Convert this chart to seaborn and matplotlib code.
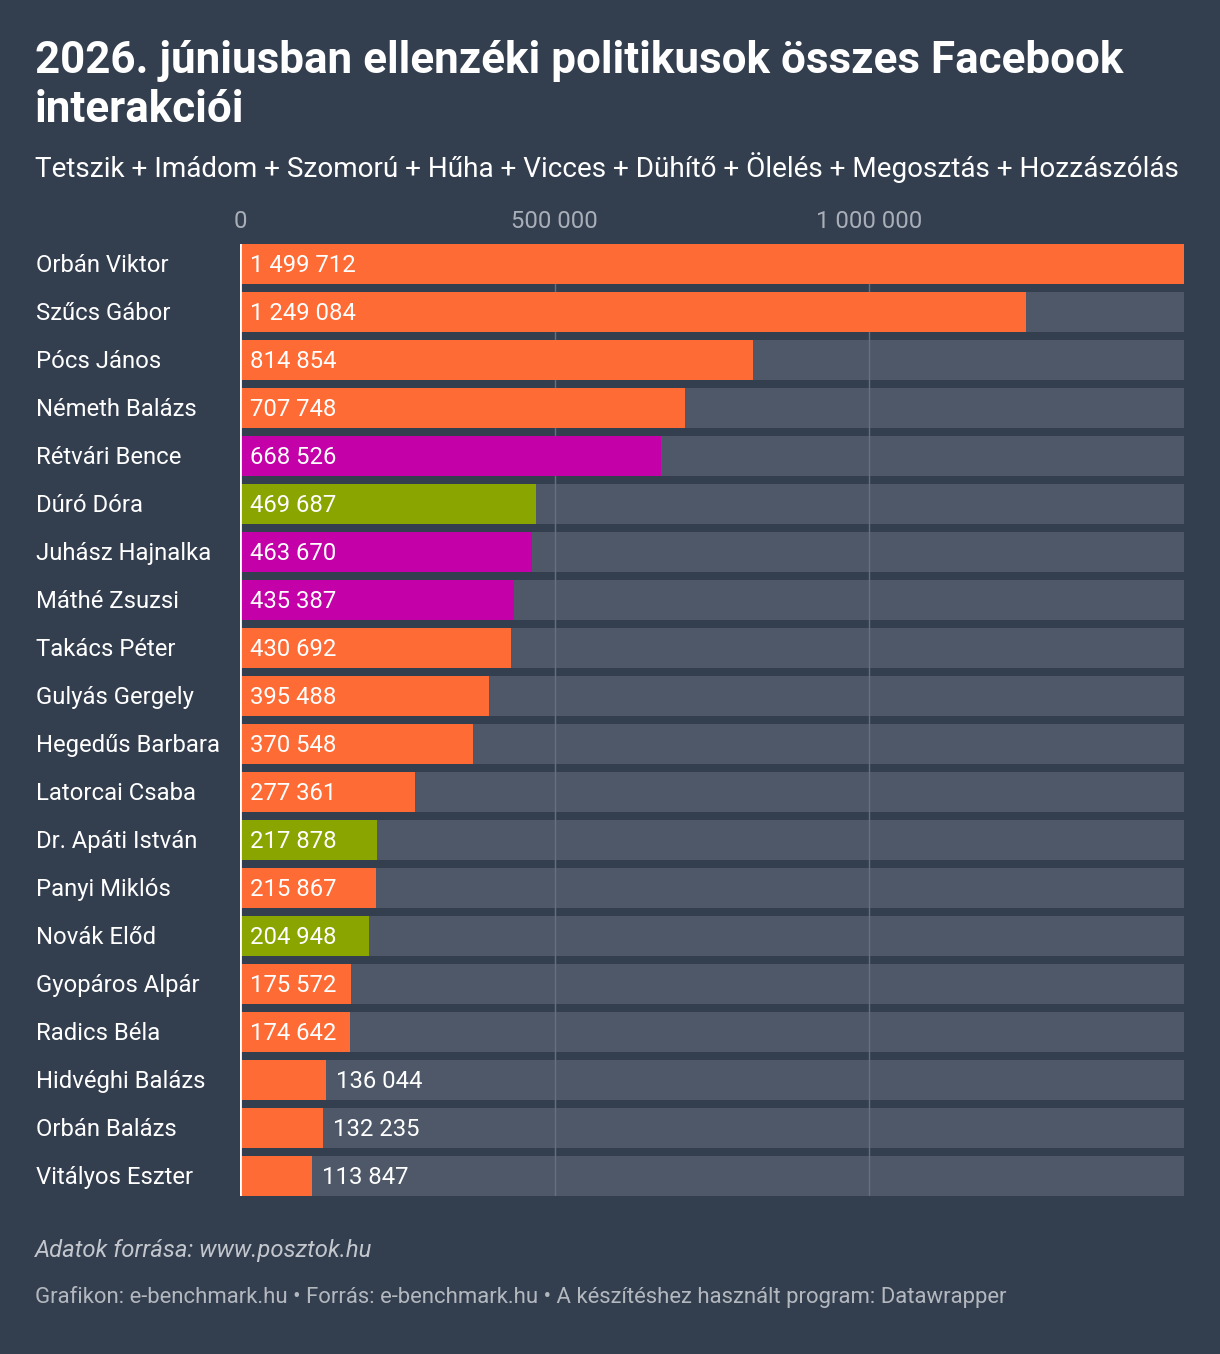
import matplotlib
matplotlib.use("Agg")
import matplotlib.pyplot as plt
import seaborn as sns
import pandas as pd

names = ["Orbán Viktor", "Szűcs Gábor", "Pócs János", "Németh Balázs", "Rétvári Bence",
         "Dúró Dóra", "Juhász Hajnalka", "Máthé Zsuzsi", "Takács Péter", "Gulyás Gergely",
         "Hegedűs Barbara", "Latorcai Csaba", "Dr. Apáti István", "Panyi Miklós", "Novák Előd",
         "Gyopáros Alpár", "Radics Béla", "Hidvéghi Balázs", "Orbán Balázs", "Vitályos Eszter"]
values = [1499712, 1249084, 814854, 707748, 668526,
          469687, 463670, 435387, 430692, 395488,
          370548, 277361, 217878, 215867, 204948,
          175572, 174642, 136044, 132235, 113847]
groups = ["o", "o", "o", "o", "m",
          "g", "m", "m", "o", "o",
          "o", "o", "g", "o", "g",
          "o", "o", "o", "o", "o"]
ticks = [0, 500000, 1000000]

BG = "#333e4f"
TRACK = "#4e5868"
palette = {"o": "#ff6b35", "m": "#c400a8", "g": "#8aa400"}

df = pd.DataFrame({"name": names, "value": values, "group": groups})
df["track"] = max(values)

sns.set_theme(style="white")
plt.rcParams["font.family"] = ["Roboto", "DejaVu Sans"]

fig = plt.figure(figsize=(12.2, 13.54), dpi=100, facecolor=BG)
# axes box = top of first bar to bottom of last bar
ax = fig.add_axes([240 / 1220, 1 - 1196 / 1354, 944 / 1220, 952 / 1354])
ax.set_facecolor(BG)

bw = 0.833
sns.barplot(data=df, x="track", y="name", orient="h", color=TRACK, width=bw,
            saturation=1, linewidth=0, ax=ax, zorder=1)
for t in ticks[1:]:
    ax.axvline(t, color="#687080", lw=1, zorder=1.5)
sns.barplot(data=df, x="value", y="name", hue="group", palette=palette, orient="h",
            width=bw, saturation=1, dodge=False, legend=False, linewidth=0, ax=ax, zorder=2)
ax.axvline(0, color="white", lw=2, zorder=3)

ax.set_xlim(0, max(values))
ax.set_ylim(len(names) - 1 + bw / 2, -bw / 2)
ax.xaxis.tick_top()
ax.set_xticks(ticks)
ax.set_xticklabels([f"{t:,}".replace(",", " ") for t in ticks], fontsize=17.2, color="#a9afb8")
ax.tick_params(axis="x", length=0, pad=8)
ax.set_yticks([])
ax.set_xlabel("")
ax.set_ylabel("")
for s in ax.spines.values():
    s.set_visible(False)

scale = 944 / max(values)
for i, (n, v) in enumerate(zip(names, values)):
    ax.text(-204 / scale, i + 0.03, n, ha="left", va="center", fontsize=17.2, color="white",
            clip_on=False)
    lab = f"{v:,}".replace(",", " ")
    if v * scale > 100:
        ax.text(10 / scale, i + 0.03, lab, ha="left", va="center", fontsize=17.2,
                color="white", zorder=4)
    else:
        ax.text(v + 10 / scale, i + 0.03, lab, ha="left", va="center", fontsize=17.2,
                color="white", zorder=4)

fig.text(35 / 1220, 1 - 73 / 1354, "2026. júniusban ellenzéki politikusok összes Facebook",
         fontsize=31.7, fontweight="bold", color="white", ha="left", va="baseline")
fig.text(35 / 1220, 1 - 122 / 1354, "interakciói",
         fontsize=31.7, fontweight="bold", color="white", ha="left", va="baseline")
fig.text(35 / 1220, 1 - 177 / 1354,
         "Tetszik + Imádom + Szomorú + Hűha + Vicces + Dühítő + Ölelés + Megosztás + Hozzászólás",
         fontsize=20.05, color="white", ha="left", va="baseline")
fig.text(35 / 1220, 1 - 1250 / 1354, "Adatok forrása: www.posztok.hu", fontsize=17.2,
         style="italic", color="#c3c7cd", ha="left", va="center")
fig.text(35 / 1220, 1 - 1297 / 1354,
         "Grafikon: e-benchmark.hu • Forrás: e-benchmark.hu • A készítéshez használt program: Datawrapper",
         fontsize=15.9, color="#b3b8bf", ha="left", va="center")

fig.savefig("out.png", dpi=100, facecolor=BG)
